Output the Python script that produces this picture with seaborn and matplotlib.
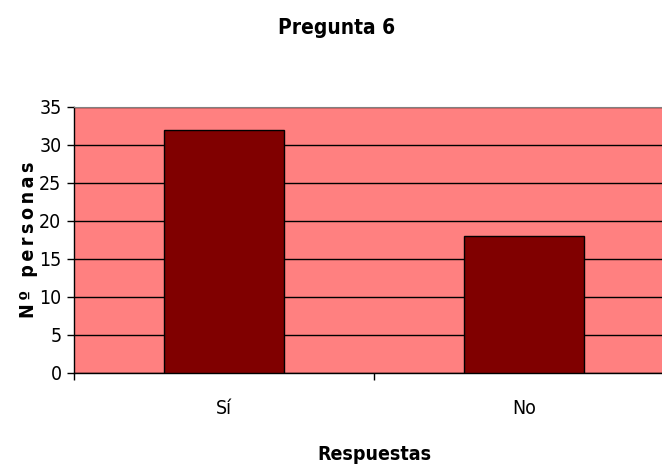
import matplotlib
matplotlib.use("Agg")
import matplotlib.pyplot as plt
import seaborn as sns
import pandas as pd
from matplotlib.ticker import FixedLocator

# Data
respuestas = ["Sí", "No"]
personas = [32, 18]

sns.set_style("white")
plt.rcParams['font.family'] = ['Liberation Sans Narrow', 'DejaVu Sans', 'Liberation Sans']
plt.rcParams['font.stretch'] = 'condensed'
plt.rcParams['text.color'] = 'black'
plt.rcParams['axes.labelcolor'] = 'black'
plt.rcParams['xtick.color'] = 'black'
plt.rcParams['ytick.color'] = 'black'

df = pd.DataFrame({"Respuestas": respuestas, "Nº personas": personas})

fig = plt.figure(figsize=(6.62, 4.69), dpi=100)
ax = fig.add_axes([74 / 662, 1 - 373 / 469, 600 / 662, 266 / 469])
ax.set_facecolor("#FF8080")

sns.barplot(data=df, x="Respuestas", y="Nº personas", color="#800000",
            width=0.4, edgecolor="black", linewidth=1, saturation=1, ax=ax, zorder=3)

ax.set_xlim(-0.5, 1.5)
ax.set_ylim(0, 35)
ax.set_yticks(range(0, 36, 5))
ax.yaxis.grid(True, color="black", linewidth=1, zorder=0)
ax.set_axisbelow(True)

# Excel-style category ticks between categories
ax.xaxis.set_minor_locator(FixedLocator([-0.5, 0.5, 1.5]))
ax.tick_params(axis="x", which="major", bottom=False, length=0, pad=19, labelsize=14)
ax.tick_params(axis="x", which="minor", bottom=True, length=5, width=1, color="black", direction="out")
ax.tick_params(axis="y", left=True, length=5, width=1, color="black", direction="out", labelsize=14, pad=4)

for side in ["left", "bottom"]:
    ax.spines[side].set_color("black")
    ax.spines[side].set_linewidth(1)
ax.spines["top"].set_color("#808080")
ax.spines["right"].set_visible(False)

ax.set_xlabel("Respuestas", fontsize=14, fontweight="bold", labelpad=19)
ylab = "\u2009".join("Nº personas")
ax.set_ylabel(ylab, fontsize=14, fontweight="bold", labelpad=1)
fig.suptitle("Pregunta 6", fontsize=15, fontweight="bold", x=337 / 662, y=1 - 28 / 469, va="center")

fig.savefig("out.png", dpi=100)
